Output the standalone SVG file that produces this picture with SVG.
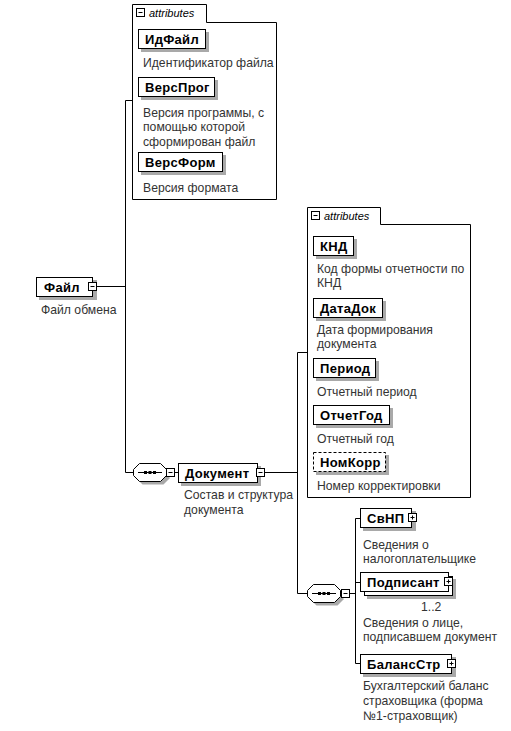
<svg xmlns="http://www.w3.org/2000/svg" width="511" height="731" viewBox="0 0 511 731">
<style>
.bg{fill:#fff}
.box{fill:#fff;stroke:#000;stroke-width:1}
.dash{fill:#fff;stroke:#000;stroke-width:1;stroke-dasharray:3,2}
.sh{fill:#a9a9a9}
.ln{fill:none;stroke:#000;stroke-width:1}
.nm{font-family:"Liberation Sans",Arial,sans-serif;font-size:13px;font-weight:bold;letter-spacing:0.3px;fill:#000}
.ds{font-family:"Liberation Sans",Arial,sans-serif;font-size:12.2px;fill:#333}
.at{font-family:"Liberation Sans",Arial,sans-serif;font-size:11px;font-style:italic;fill:#000}
</style>
<defs>
<g id="minus"><rect x="0.5" y="0.5" width="8" height="8" class="box"/><path d="M2.5 4.5H6.5" class="ln"/></g>
<g id="plus"><rect x="0.5" y="0.5" width="8" height="8" class="box"/><path d="M2.5 4.5H6.5M4.5 2.5V6.5" class="ln"/></g>
<g id="seq">
<path d="M9.5 3.5H30.5L36.5 9.5V15.5L30.5 21.5H9.5L3.5 15.5V9.5Z" class="sh"/>
<path d="M6.5 0.5H27.5L33.5 6.5V12.5L27.5 18.5H6.5L0.5 12.5V6.5Z" class="box"/>
<path d="M5 9.5H29" class="ln"/>
<rect x="11" y="8" width="3" height="3"/><rect x="15.5" y="8" width="3" height="3"/><rect x="20" y="8" width="3" height="3"/>
</g>
</defs>
<rect width="511" height="731" class="bg"/>

<g id="connectors">
<path d="M97 286.5H125.5M125.5 100.5V472.5M125.5 100.5H133M125.5 472.5H133" class="ln"/>
<path d="M174 472.5H178" class="ln"/>
<path d="M265 472.5H297.5M297.5 352.5V593.5M297.5 352.5H307M297.5 593.5H307" class="ln"/>
<path d="M349 593.5H355.5M355.5 518.5V663.5M355.5 518.5H360M355.5 582.5H360M355.5 663.5H360" class="ln"/>
</g>

<g id="file">
<rect x="39" y="280" width="58" height="20" class="sh"/>
<rect x="36.5" y="277.5" width="56" height="19" class="box"/>
<use href="#minus" x="88" y="282"/>
<text x="44" y="292" class="nm">Файл</text>
<text x="41" y="314" class="ds">Файл обмена</text>
</g>

<g id="attributes1">
<path d="M132.5 199.5V4.5H206.5V22.5H276.5V199.5Z" class="box"/>
<use href="#minus" x="136" y="8"/>
<text x="149" y="17" class="at">attributes</text>
</g>

<g id="IdFile">
<rect x="141" y="32" width="68" height="20" class="sh"/>
<rect x="138.5" y="29.5" width="67" height="19" class="box"/>
<text x="145" y="44" class="nm">ИдФайл</text>
<text x="143" y="67" class="ds">Идентификатор файла</text>
</g>

<g id="VersProg">
<rect x="141" y="80" width="77" height="20" class="sh"/>
<rect x="138.5" y="77.5" width="76" height="19" class="box"/>
<text x="145" y="92" class="nm">ВерсПрог</text>
<text x="143" y="117" class="ds">Версия программы, с</text>
<text x="143" y="131" class="ds">помощью которой</text>
<text x="143" y="146" class="ds">сформирован файл</text>
</g>

<g id="VersForm">
<rect x="141" y="155" width="85" height="20" class="sh"/>
<rect x="138.5" y="152.5" width="84" height="19" class="box"/>
<text x="145" y="167" class="nm">ВерсФорм</text>
<text x="143" y="192" class="ds">Версия формата</text>
</g>

<g id="seq1"><use href="#seq" x="133" y="463"/><use href="#minus" x="166" y="468"/></g>

<g id="document">
<rect x="181" y="466" width="80" height="20" class="sh"/>
<rect x="178.5" y="463.5" width="79" height="19" class="box"/>
<use href="#minus" x="256" y="468"/>
<text x="185" y="478" class="nm">Документ</text>
<text x="184" y="499" class="ds">Состав и структура</text>
<text x="184" y="514" class="ds">документа</text>
</g>

<g id="attributes2">
<path d="M307.5 497.5V207.5H380.5V224.5H470.5V497.5Z" class="box"/>
<use href="#minus" x="311" y="211"/>
<text x="324" y="220" class="at">attributes</text>
</g>

<g id="KND">
<rect x="316" y="239" width="41" height="20" class="sh"/>
<rect x="313.5" y="236.5" width="40" height="19" class="box"/>
<text x="320" y="251" class="nm">КНД</text>
<text x="317" y="273" class="ds">Код формы отчетности по</text>
<text x="317" y="287" class="ds">КНД</text>
</g>

<g id="DataDok">
<rect x="316" y="301" width="70" height="20" class="sh"/>
<rect x="313.5" y="298.5" width="69" height="19" class="box"/>
<text x="320" y="313" class="nm">ДатаДок</text>
<text x="317" y="334" class="ds">Дата формирования</text>
<text x="317" y="348" class="ds">документа</text>
</g>

<g id="Period">
<rect x="316" y="361" width="63" height="20" class="sh"/>
<rect x="313.5" y="358.5" width="62" height="19" class="box"/>
<text x="320" y="373" class="nm">Период</text>
<text x="317" y="396" class="ds">Отчетный период</text>
</g>

<g id="OtchetGod">
<rect x="316" y="408" width="77" height="20" class="sh"/>
<rect x="313.5" y="405.5" width="76" height="19" class="box"/>
<text x="320" y="420" class="nm">ОтчетГод</text>
<text x="317" y="443" class="ds">Отчетный год</text>
</g>

<g id="NomKorr">
<rect x="316" y="455" width="73" height="20" class="sh"/>
<rect x="313.5" y="452.5" width="72" height="19" class="dash"/>
<text x="320" y="467" class="nm">НомКорр</text>
<text x="317" y="490" class="ds">Номер корректировки</text>
</g>

<g id="seq2"><use href="#seq" x="307" y="584"/><use href="#minus" x="341" y="589"/></g>

<g id="SvNP">
<rect x="363" y="511" width="53" height="20" class="sh"/>
<rect x="360.5" y="508.5" width="51" height="19" class="box"/>
<use href="#plus" x="408" y="513"/>
<text x="367" y="523" class="nm">СвНП</text>
<text x="363" y="549" class="ds">Сведения о</text>
<text x="363" y="563" class="ds">налогоплательщике</text>
</g>

<g id="Podpisant">
<rect x="367" y="579" width="89" height="20" class="sh"/>
<rect x="364.5" y="576.5" width="88" height="19" class="box"/>
<rect x="360.5" y="572.5" width="88" height="19" class="box"/>
<use href="#plus" x="444" y="577"/>
<text x="367" y="587" class="nm">Подписант</text>
<text x="421" y="611" class="ds">1..2</text>
<text x="363" y="627" class="ds">Сведения о лице,</text>
<text x="363" y="641" class="ds">подписавшем документ</text>
</g>

<g id="BalansStr">
<rect x="363" y="657" width="93" height="20" class="sh"/>
<rect x="360.5" y="654.5" width="91" height="19" class="box"/>
<use href="#plus" x="447" y="659"/>
<text x="367" y="669" class="nm">БалансСтр</text>
<text x="363" y="690" class="ds">Бухгалтерский баланс</text>
<text x="363" y="705" class="ds">страховщика (форма</text>
<text x="363" y="720" class="ds">№1-страховщик)</text>
</g>
</svg>
